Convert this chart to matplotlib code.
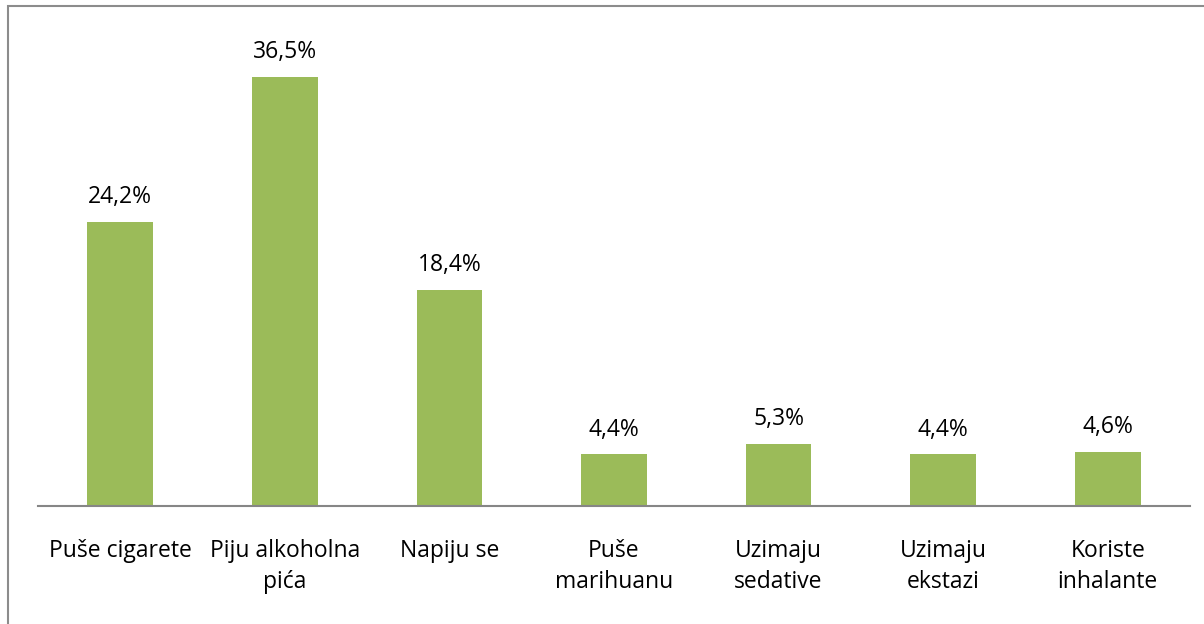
import matplotlib
matplotlib.use("Agg")
import matplotlib.pyplot as plt
from matplotlib.patches import Rectangle

categories = ["Puše cigarete", "Piju alkoholna\npića", "Napiju se", "Puše\nmarihuanu",
              "Uzimaju\nsedative", "Uzimaju\nekstazi", "Koriste\ninhalante"]
values = [24.2, 36.5, 18.4, 4.4, 5.3, 4.4, 4.6]
labels = ["24,2%", "36,5%", "18,4%", "4,4%", "5,3%", "4,4%", "4,6%"]

plt.rcParams['font.family'] = ['Open Sans', 'DejaVu Sans']

W, H = 1204, 624
fig = plt.figure(figsize=(W / 100, H / 100), dpi=100)

# outer chart border (cut by the image edge on right/bottom)
fig.patches.append(Rectangle((8 / W, -0.2), 1.2, 1 - 6 / H + 0.2,
                             transform=fig.transFigure, fill=False,
                             edgecolor="#8c8c8c", linewidth=1.5, zorder=0))

left, right = 38, 1190
base, top = 506, 36
ax = fig.add_axes([left / W, 1 - base / H, (right - left) / W, (base - top) / H])
ax.set_facecolor("none")

x = list(range(len(categories)))
ax.bar(x, values, width=0.4, color="#9BBB59", zorder=2)
ax.set_xlim(-0.5, len(categories) - 0.5)
ax.set_ylim(0, 40)

for xi, v, lab in zip(x, values, labels):
    ax.annotate(lab, (xi, v), xytext=(0, 13.5), textcoords="offset points",
                ha="center", va="baseline", fontsize=16.5, color="#000000")

for s in ["top", "right", "left"]:
    ax.spines[s].set_visible(False)
ax.spines["bottom"].set_color("#868686")
ax.spines["bottom"].set_linewidth(1.5)
ax.set_yticks([])
ax.set_xticks(x)
ax.set_xticklabels(categories, fontsize=16.5, linespacing=1.4)
ax.tick_params(axis="x", length=0, pad=23.5)

fig.savefig("out.png", dpi=100)
